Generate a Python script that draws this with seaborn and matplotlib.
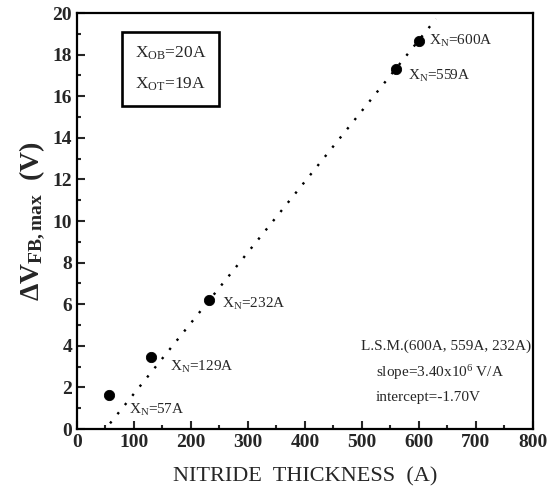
import numpy as np
import pandas as pd
import matplotlib
matplotlib.use("Agg")
import matplotlib.pyplot as plt
import seaborn as sns
from matplotlib.ticker import MultipleLocator

thickness = [57, 129, 232, 559, 600]
dvfb = [1.65, 3.45, 6.2, 17.3, 18.65]
labels = ["57A", "129A", "232A", "559A", "600A"]
slope = 0.034
intercept = -1.70
fit_x = [58, 630]

sns.set_theme(style="ticks")
plt.rcParams['font.family'] = ['Liberation Serif', 'DejaVu Serif']
plt.rcParams['mathtext.fontset'] = 'custom'
plt.rcParams['mathtext.rm'] = 'Liberation Serif'
plt.rcParams['mathtext.it'] = 'Liberation Serif'
plt.rcParams['mathtext.bf'] = 'Liberation Serif:bold'

fig = plt.figure(figsize=(5.48, 5.0), dpi=100)
ax = fig.add_axes([0.1405, 0.142, 0.832, 0.832])

df = pd.DataFrame({"x": thickness, "y": dvfb})
fx = np.array(fit_x, dtype=float)
fit = pd.DataFrame({"x": fx, "y": slope * fx + intercept})
sns.lineplot(data=fit, x="x", y="y", ax=ax, color="black", linestyle=(0, (1, 4)), linewidth=1.7)
sns.scatterplot(data=df, x="x", y="y", ax=ax, color="black", s=55, edgecolor="black", zorder=5)

offsets = [(14, -11), (14, -7), (9, -3), (9, -5), (7, 0)]
for x, y, lab, off in zip(thickness, dvfb, labels, offsets):
    ax.annotate(r"X$_{\rm N}$=" + lab, (x, y), xytext=off, textcoords="offset points",
                fontsize=11, va="center", ha="left")

ax.set_xlim(0, 800)
ax.set_ylim(0, 20)
ax.xaxis.set_major_locator(MultipleLocator(100))
ax.xaxis.set_minor_locator(MultipleLocator(50))
ax.yaxis.set_major_locator(MultipleLocator(2))
ax.yaxis.set_minor_locator(MultipleLocator(1))
ax.tick_params(which="both", direction="in", top=False, right=False, width=1.5)
ax.tick_params(which="major", length=6, labelsize=14)
ax.tick_params(which="minor", length=3)
for lab in ax.get_xticklabels() + ax.get_yticklabels():
    lab.set_fontweight("bold")
for sp in ax.spines.values():
    sp.set_linewidth(1.6)
    sp.set_color("black")

ax.set_xlabel("NITRIDE  THICKNESS  (A)", fontsize=16, labelpad=12)
ax.set_ylabel(r"$\mathbf{\Delta V_{FB,max}}$  (V)", fontsize=20, fontweight="bold", labelpad=4)

ax.text(0.205, 0.865, "X$_{\\rm OB}$=20A\n\nX$_{\\rm OT}$=19A", transform=ax.transAxes,
        fontsize=12.5, ha="center", va="center", linespacing=0.9,
        bbox=dict(boxstyle="square,pad=0.75", fc="white", ec="black", lw=1.9))

ax.text(0.81, 0.19, "L.S.M.(600A, 559A, 232A)", transform=ax.transAxes, fontsize=11, ha="center")
ax.text(0.655, 0.125, "slope=3.40x10$^{6}$ V/A", transform=ax.transAxes, fontsize=11, ha="left")
ax.text(0.655, 0.068, "intercept=-1.70V", transform=ax.transAxes, fontsize=11, ha="left")

fig.savefig("out.png", dpi=100)
